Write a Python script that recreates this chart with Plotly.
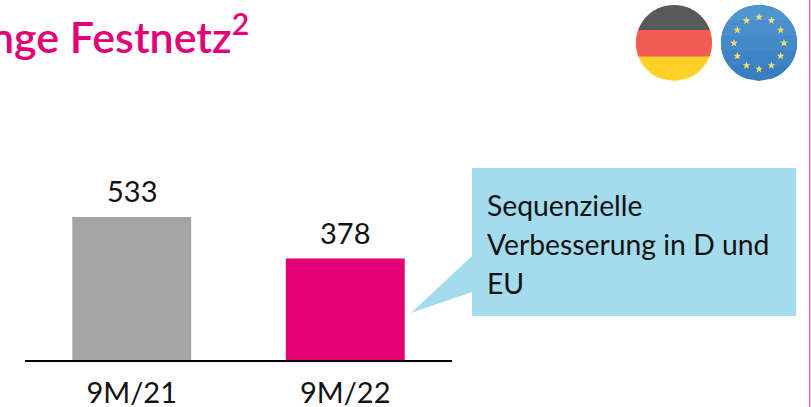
import math
import plotly.graph_objects as go

W, H = 811, 407
categories = ["9M/21", "9M/22"]
values = [533, 378]
bar_colors = ["#A5A5A5", "#E20074"]
title_text = "nge Festnetz<sup>2</sup>"
callout_lines = ["Sequenzielle", "Verbesserung in D und", "EU"]

def fx(x): return x / W
def fy(y): return 1 - y / H

def pshape(points, color, layer="above"):
    d = "M " + " L ".join(f"{fx(x):.5f},{fy(y):.5f}" for x, y in points) + " Z"
    return dict(type="path", xref="paper", yref="paper", path=d, fillcolor=color,
                line=dict(width=0), layer=layer)

def band(cx, cy, r, y0, y1):
    pts = []
    steps = 30
    for i in range(steps + 1):
        y = y0 + (y1 - y0) * i / steps
        pts.append((cx + math.sqrt(max(r * r - (y - cy) ** 2, 0)), y))
    for i in range(steps + 1):
        y = y1 + (y0 - y1) * i / steps
        pts.append((cx - math.sqrt(max(r * r - (y - cy) ** 2, 0)), y))
    return pts

def star(cx, cy, R):
    pts = []
    for i in range(10):
        rr = R if i % 2 == 0 else R * 0.42
        a = -math.pi / 2 + i * math.pi / 5
        pts.append((cx + rr * math.cos(a), cy + rr * math.sin(a)))
    return pts

shapes = []
shapes.append(pshape([(472, 168), (796, 168), (796, 316), (472, 316), (472, 292), (411, 313), (472, 256)], "#A4DCEE"))
shapes.append(pshape([(809, 0), (810.4, 0), (810.4, 407), (809, 407)], "#EE6FB0"))
gx, gy, gr = 674, 43, 38
shapes.append(pshape(band(gx, gy, gr, gy - gr, gy + gr), "#FFD128"))
shapes.append(pshape(band(gx, gy, gr, gy - gr, 56.5), "#F25C54"))
shapes.append(pshape(band(gx, gy, gr, gy - gr, 30), "#58595B"))
ex, ey, er = 759, 43, 38
eu_shades = ["#3A7EC0", "#3F83C4", "#4489C8", "#4A8FCC", "#4E96D2"]
for i, c in enumerate(eu_shades):
    shapes.append(pshape(band(ex, ey, er, ey - er, ey + er - i * 2 * er / 5), c))
for i in range(12):
    a = i * math.pi / 6
    shapes.append(pshape(star(ex + 25 * math.sin(a), ey - 26 * math.cos(a), 4), "#F2DC6E"))

fig = go.Figure(go.Bar(
    x=categories, y=values, marker=dict(color=bar_colors, line=dict(width=0)),
    cliponaxis=False, width=0.557,
))

annotations = [dict(xref="paper", yref="paper", x=fx(251), y=fy(33), xanchor="right", yanchor="middle",
                    text=title_text, showarrow=False, font=dict(family="Lato", size=43, color="#E20074", weight=600))]
for line, yc in zip(callout_lines, [205, 244, 283]):
    annotations.append(dict(xref="paper", yref="paper", x=fx(485), y=fy(yc), xanchor="left", yanchor="middle",
                            text=line, showarrow=False, font=dict(family="Lato", size=28.3, color="#111111")))
for c, v in zip(categories, values):
    annotations.append(dict(xref="x", yref="y", x=c, y=v, xanchor="center", yanchor="bottom", yshift=7,
                            text=str(v), showarrow=False, font=dict(family="Lato", size=29, color="#111111")))

fig.update_layout(
    width=W, height=H, margin=dict(l=0, r=0, t=0, b=0), autosize=False,
    paper_bgcolor="white", plot_bgcolor="white", showlegend=False,
    shapes=shapes, annotations=annotations,
    xaxis=dict(domain=[fx(25), fx(452)], automargin=False, showgrid=False, zeroline=False, showline=True,
               linecolor="#000000", linewidth=2, ticks="", ticklabelstandoff=6,
               tickfont=dict(family="Lato", size=29, color="#111111"), fixedrange=True),
    yaxis=dict(domain=[fy(360), fy(160)], range=[0, 745], visible=False, automargin=False, fixedrange=True),
)
fig.write_html("out.html", config=dict(displayModeBar=False),
               post_script="document.body.style.margin='0';document.documentElement.style.overflow='hidden';")
